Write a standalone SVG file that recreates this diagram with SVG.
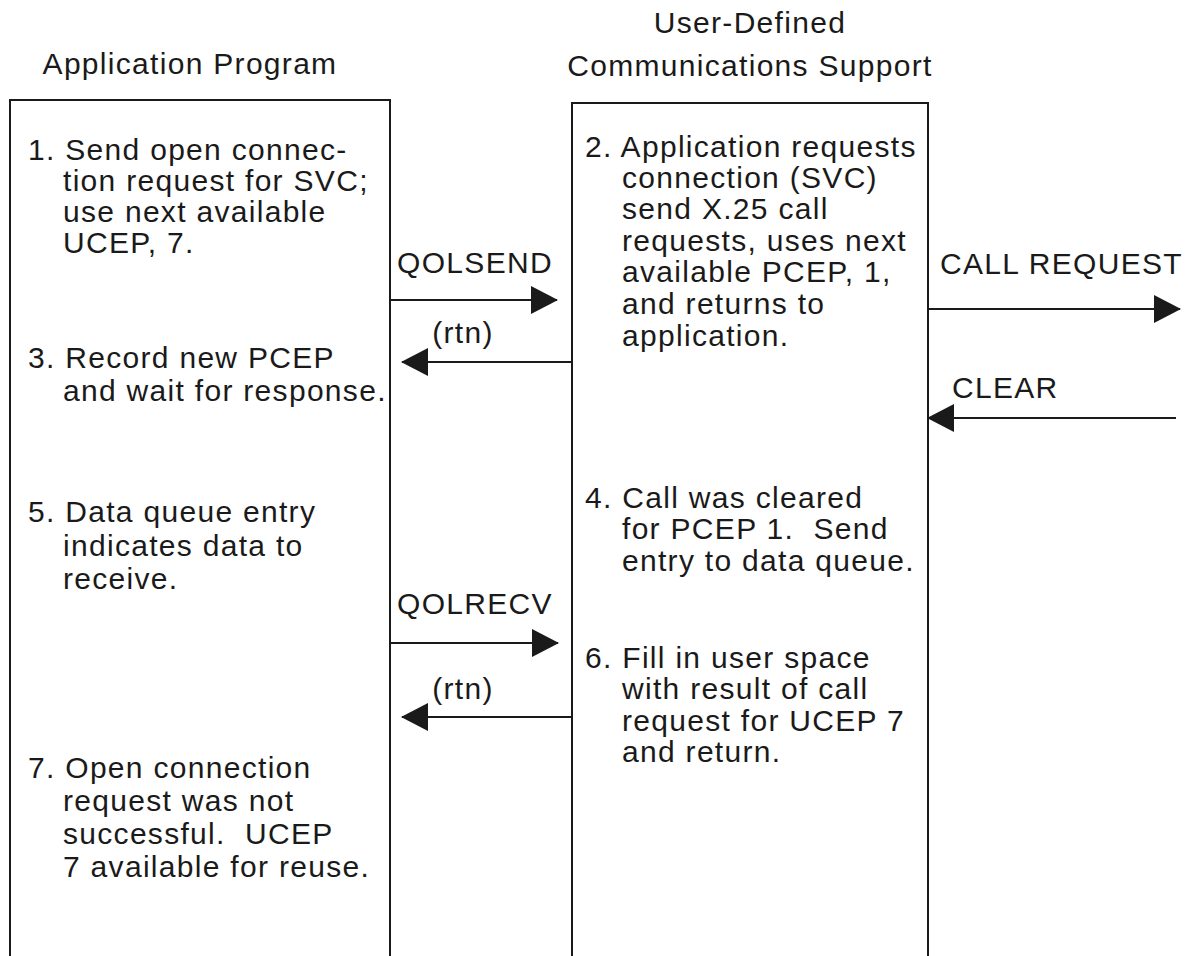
<svg xmlns="http://www.w3.org/2000/svg" width="1195" height="956" viewBox="0 0 1195 956">
<defs>
<style>
text{font-family:"Liberation Sans",Arial,sans-serif;font-size:30px;fill:#1a1a1a;letter-spacing:1.3px}
.box{fill:none;stroke:#1a1a1a;stroke-width:2}
.conn line{stroke:#1a1a1a;stroke-width:2}
.mid{text-anchor:middle}
</style>
<marker id="ah" viewBox="0 0 27 28" refX="26" refY="14" markerWidth="27" markerHeight="28" markerUnits="userSpaceOnUse" orient="auto">
<path d="M0,0 L27,14 L0,28 Z" fill="#1a1a1a"/>
</marker>
</defs>
<rect width="1195" height="956" fill="#fff"/>

<g id="app-program">
<text class="mid" x="190" y="74">Application Program</text>
<path class="box" d="M10,957 V100 H390 V957"/>
<g id="step1">
<text x="28" y="160">1. Send open connec-</text>
<text x="63" y="191">tion request for SVC;</text>
<text x="63" y="222">use next available</text>
<text x="63" y="253">UCEP, 7.</text>
</g>
<g id="step3">
<text x="28" y="368">3. Record new PCEP</text>
<text x="63" y="401">and wait for response.</text>
</g>
<g id="step5">
<text x="28" y="522">5. Data queue entry</text>
<text x="63" y="556">indicates data to</text>
<text x="63" y="589">receive.</text>
</g>
<g id="step7">
<text x="28" y="778">7. Open connection</text>
<text x="63" y="811">request was not</text>
<text x="63" y="844" xml:space="preserve">successful.  UCEP</text>
<text x="63" y="877">7 available for reuse.</text>
</g>
</g>

<g id="udcs">
<text class="mid" x="750" y="33">User-Defined</text>
<text class="mid" x="750" y="76">Communications Support</text>
<path class="box" d="M572,957 V103 H928 V957"/>
<g id="step2">
<text x="585" y="157">2. Application requests</text>
<text x="622" y="188">connection (SVC)</text>
<text x="622" y="219">send X.25 call</text>
<text x="622" y="251">requests, uses next</text>
<text x="622" y="282">available PCEP, 1,</text>
<text x="622" y="314">and returns to</text>
<text x="622" y="346">application.</text>
</g>
<g id="step4">
<text x="585" y="508">4. Call was cleared</text>
<text x="622" y="539" xml:space="preserve">for PCEP 1.  Send</text>
<text x="622" y="571">entry to data queue.</text>
</g>
<g id="step6">
<text x="585" y="668">6. Fill in user space</text>
<text x="622" y="699">with result of call</text>
<text x="622" y="731">request for UCEP 7</text>
<text x="622" y="762">and return.</text>
</g>
</g>

<g id="connectors" class="conn">
<line x1="390" y1="300" x2="557" y2="300" marker-end="url(#ah)"/>
<line x1="572" y1="362" x2="402" y2="362" marker-end="url(#ah)"/>
<line x1="928" y1="309" x2="1180" y2="309" marker-end="url(#ah)"/>
<line x1="1176" y1="418" x2="928" y2="418" marker-end="url(#ah)"/>
<line x1="390" y1="643" x2="558" y2="643" marker-end="url(#ah)"/>
<line x1="572" y1="717" x2="402" y2="717" marker-end="url(#ah)"/>
<text class="mid" x="475" y="273">QOLSEND</text>
<text class="mid" x="463" y="343">(rtn)</text>
<text x="940" y="274">CALL REQUEST</text>
<text x="952" y="398">CLEAR</text>
<text class="mid" x="475" y="614">QOLRECV</text>
<text class="mid" x="463" y="699">(rtn)</text>
</g>
</svg>
